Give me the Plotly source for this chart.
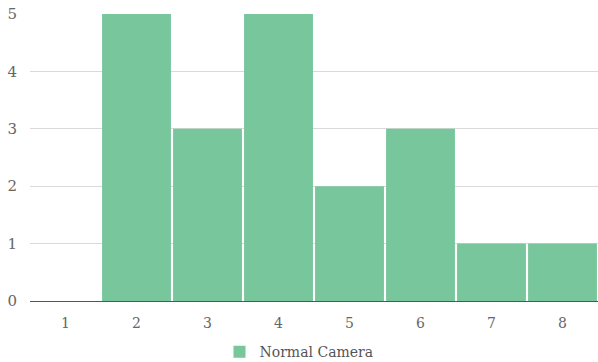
import plotly.graph_objects as go

categories = ["1", "2", "3", "4", "5", "6", "7", "8"]
normal_camera = [0, 5, 3, 5, 2, 3, 1, 1]

fig = go.Figure()
fig.add_trace(go.Bar(
    x=categories,
    y=normal_camera,
    name="Normal Camera",
    marker=dict(color="#77c69c", line=dict(width=0)),
    showlegend=True,
))

font = "DejaVu Serif"

fig.update_layout(
    width=598,
    height=362,
    margin=dict(l=30, r=0, t=14, b=61),
    paper_bgcolor="white",
    plot_bgcolor="white",
    bargap=0.03,
    font=dict(family=font, size=14, color="#666666"),
    showlegend=True,
    legend=dict(
        orientation="h",
        xref="container", yref="container",
        x=0.5, xanchor="center",
        y=0.027, yanchor="middle",
        font=dict(family=font, size=14, color="#555555"),
        itemwidth=30,
    ),
    xaxis=dict(
        type="category",
        showgrid=False,
        showline=True,
        linecolor="#555555",
        linewidth=1,
        ticks="outside",
        ticklen=9,
        tickcolor="rgba(0,0,0,0)",
        tickfont=dict(family=font, size=14, color="#666666"),
    ),
    yaxis=dict(
        range=[0, 5],
        dtick=1,
        showgrid=True,
        gridcolor="#d9d9d9",
        gridwidth=1,
        zeroline=False,
        showline=False,
        ticks="outside",
        ticklen=9,
        tickcolor="rgba(0,0,0,0)",
        tickfont=dict(family=font, size=15, color="#666666"),
    ),
)

fig.write_html("out.html")
